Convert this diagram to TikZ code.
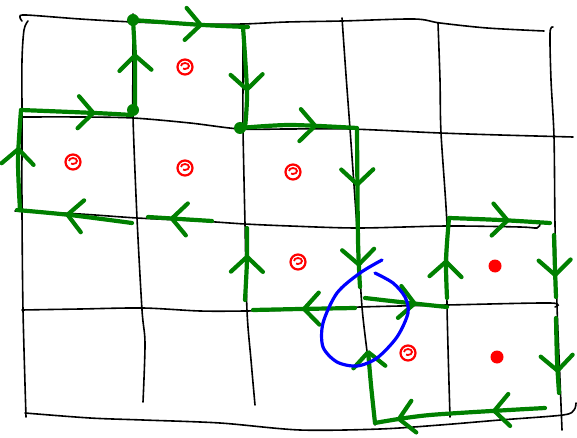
\documentclass[tikz,border=0pt]{standalone}
\usetikzlibrary{arrows.meta,decorations.markings}
\begin{document}
\begin{tikzpicture}[x=1pt,y=-1pt,>={Straight Barb[length=15pt,width=32pt,round]},
    gridln/.style={black,line width=1.6pt,line cap=round},
    loop/.style={green!50!black,line width=4.2pt,line cap=round,line join=round},
    arrowat/.style={postaction={decorate,decoration={markings,mark=at position #1 with {\arrow{>}}}}},
    gdot/.style={circle,fill=green!50!black,minimum size=12pt,inner sep=0pt},
    dot/.style={circle,fill=red,minimum size=13pt,inner sep=0pt},
    scrib/.style={circle,draw=red,line width=2.2pt,minimum size=15pt,inner sep=0pt,
      path picture={\draw[red,line width=1.8pt] (path picture bounding box.center)
        ++(-4pt,1pt) arc[start angle=180,end angle=-120,x radius=4pt,y radius=3pt];}}]
  \useasboundingbox (0,0) rectangle (577,438);
  % grid
  \draw[gridln] plot[smooth] coordinates {(22,21) (20,17) (26,15) (80,19) (133,22) (200,24) (243,24) (287,22) (342,21) (414,19) (440,23) (487,28) (544,31)};
  \draw[gridln] plot[smooth] coordinates {(20,117) (80,117) (133,118) (190,123) (240,129) (287,129) (350,129) (440,133) (500,135) (573,137)};
  \draw[gridln] plot[smooth] coordinates {(15,211) (80,214) (137,218) (200,221) (245,224) (290,226) (358,228) (447,226) (520,227) (537,228) (540,224)};
  \draw[gridln] plot[smooth] coordinates {(22,310) (80,309) (143,308) (200,311) (245,311) (290,310) (360,307) (447,305) (550,303) (555,307)};
  \draw[gridln] plot[smooth] coordinates {(25,413) (90,418) (143,420) (220,423) (300,430) (380,429) (440,425) (500,420) (563,415) (574,410) (576,403)};
  \draw[gridln] plot[smooth] coordinates {(28,21) (24,30) (22,60) (22,117) (22,211) (23,310) (26,417)};
  \draw[gridln] plot[smooth] coordinates {(133,14) (133,60) (133,117) (137,218) (142,310) (145,343) (143,402)};
  \draw[gridln] plot[smooth] coordinates {(243,24) (243,80) (243,129) (245,224) (247,311) (251,360) (255,405)};
  \draw[gridln] plot[smooth] coordinates {(342,18) (346,75) (350,129) (357,228) (362,307) (368,360) (375,425)};
  \draw[gridln] plot[smooth] coordinates {(438,23) (440,80) (441,133) (447,226) (447,306) (450,417)};
  \draw[gridln] plot[smooth] coordinates {(553,27) (550,33) (551,80) (554,137) (555,225) (557,306) (560,380) (562,430)};
  % left loop
  \draw[loop,arrowat=0.63] plot[smooth] coordinates {(20,210) (18,160) (21,110)};
  \draw[loop,arrowat=0.67] plot[smooth] coordinates {(21,110) (95,113) (132,115)};
  \draw[loop,arrowat=0.63] plot[smooth] coordinates {(135,110) (135,60) (133,20)};
  \draw[loop,arrowat=0.61] plot[smooth] coordinates {(132,20) (203,25) (248,27)};
  \draw[loop,arrowat=0.64] plot[smooth] coordinates {(243,27) (247,92) (245,128)};
  \draw[loop,arrowat=0.66] plot[smooth] coordinates {(240,128) (290,125) (357,128)};
  \draw[loop,arrowat=0.36,arrowat=0.87] plot[smooth] coordinates {(357,130) (358,240) (360,287)};
  \draw[loop,arrowat=0.52] plot[smooth] coordinates {(355,308) (300,309) (253,310)};
  \draw[loop,arrowat=0.63] plot[smooth] coordinates {(245,300) (247,260) (247,228)};
  \draw[loop,arrowat=0.66] plot[smooth] coordinates {(212,221) (180,219) (148,217)};
  \draw[loop,arrowat=0.58] plot[smooth] coordinates {(132,223) (70,215) (17,210)};
  \node[gdot] (g1) at (133,110) {};
  \node[gdot] (g2) at (133,20) {};
  \node[gdot] (g3) at (240,128) {};
  % right loop
  \draw[loop,arrowat=0.63] plot[smooth] coordinates {(365,298) (400,302) (447,307)};
  \draw[loop,arrowat=0.48] plot[smooth] coordinates {(447,298) (446,260) (449,218)};
  \draw[loop,arrowat=0.6] plot[smooth] coordinates {(449,218) (500,220) (550,223)};
  \draw[loop,arrowat=0.68] plot[smooth] coordinates {(554,235) (555,270) (556,297)};
  \draw[loop,arrowat=0.73] plot[smooth] coordinates {(556,318) (557,360) (559,393)};
  \draw[loop,arrowat=0.31,arrowat=0.87] plot[smooth] coordinates {(545,408) (430,415) (375,423)};
  \draw[loop,->] plot[smooth] coordinates {(375,423) (371,385) (368,350)};
  % blue loop
  \draw[blue,line width=3.2pt,line cap=round] plot[smooth] coordinates {(382,260) (360,273) (337,293) (323,323) (323,347) (337,362) (357,366) (377,358) (397,337) (408,313) (405,297) (393,283) (375,273)};
  % red marks
  \node[scrib] (s1) at (185,67) {};
  \node[scrib] (s2) at (73,162) {};
  \node[scrib] (s3) at (185,168) {};
  \node[scrib] (s4) at (293,172) {};
  \node[scrib] (s5) at (298,262) {};
  \node[scrib] (s6) at (408,353) {};
  \node[dot] (d1) at (495,266) {};
  \node[dot] (d2) at (497,357) {};
\end{tikzpicture}
\end{document}
